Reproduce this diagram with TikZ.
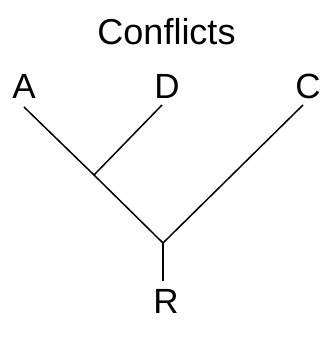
\documentclass[tikz,border=0pt]{standalone}
\usepackage{fontspec}
\setmainfont{Liberation Sans}
\begin{document}
\begin{tikzpicture}[x=1pt,y=-1pt,
  lbl/.style={anchor=base,inner sep=0pt,font=\fontsize{35}{40}\selectfont},
  branch/.style={draw=black,line width=1.5pt,line cap=butt}]
\useasboundingbox (0,0) rectangle (328,349);
\node[lbl,font=\fontsize{36}{42}\selectfont] (title) at (166.5,44) {Conflicts};
\node[lbl] (A) at (24,98) {A};
\node[lbl] (D) at (167,98) {D};
\node[lbl] (C) at (308,98) {C};
\node[lbl] (R) at (166,313) {R};
\coordinate (a0) at (24,107);
\coordinate (d0) at (162,105);
\coordinate (c0) at (303,105);
\coordinate (r0) at (163,281);
\coordinate (j1) at (94,175);
\coordinate (j2) at (163,243);
\draw[branch] (a0) -- (j1) -- (j2);
\draw[branch] (d0) -- (j1);
\draw[branch] (c0) -- (j2);
\draw[branch] (j2) -- (r0);
\end{tikzpicture}
\end{document}
